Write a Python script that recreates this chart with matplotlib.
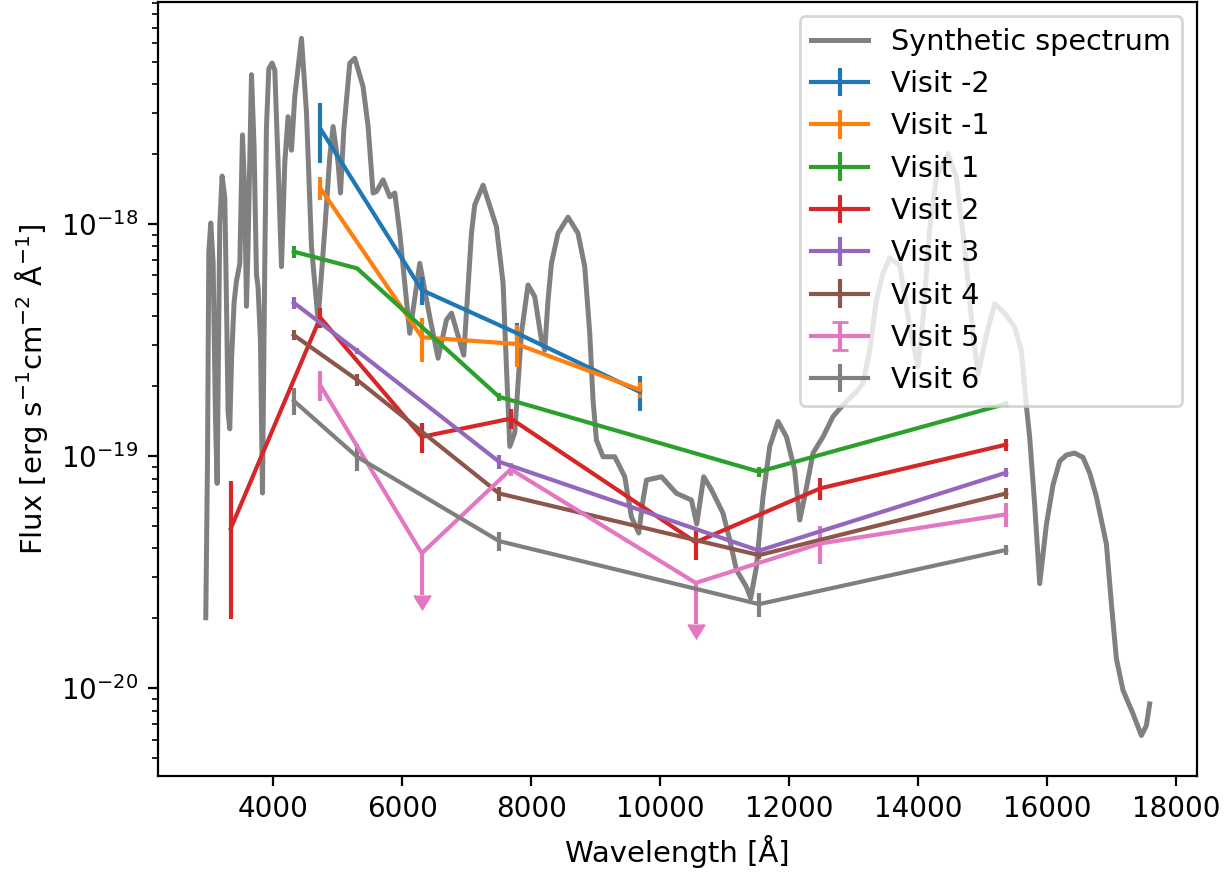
import numpy as np
import matplotlib
matplotlib.use("Agg")
import matplotlib.pyplot as plt

# Synthetic spectrum (wavelength in Angstrom, flux in erg/s/cm2/A)
spec_wave = [2950, 2977, 2997, 3028, 3064, 3101, 3126, 3167, 3203, 3245, 3271, 3296, 3322, 3349,
             3389, 3426, 3478, 3519, 3555, 3581, 3606, 3659, 3699, 3736, 3761, 3798, 3829, 3865,
             3891, 3927, 3978, 4020, 4071, 4124, 4175, 4226, 4279, 4330, 4434, 4512, 4589, 4691,
             4795, 4873, 4924, 5002, 5039, 5090, 5183, 5260, 5389, 5467, 5544, 5597, 5699, 5803,
             5881, 5958, 6062, 6113, 6268, 6423, 6552, 6682, 6760, 6950, 7070, 7121, 7250, 7457,
             7560, 7612, 7664, 7741, 7845, 7947, 8051, 8155, 8206, 8257, 8310, 8412, 8567, 8722,
             8826, 8904, 8955, 9008, 9110, 9292, 9447, 9550, 9664, 9730, 9783, 10016, 10248, 10481,
             10563, 10671, 10795, 10971, 11075, 11178, 11333, 11400, 11488, 11591, 11695, 11823,
             11954, 12082, 12160, 12237, 12366, 12521, 12676, 12831, 13039, 13141, 13245, 13349,
             13451, 13555, 13710, 13865, 13994, 14071, 14175, 14279, 14459, 14589, 14718, 14847,
             14924, 15054, 15183, 15338, 15493, 15597, 15675, 15726, 15803, 15881, 15985, 16087,
             16191, 16295, 16423, 16552, 16656, 16760, 16915, 16992, 17070, 17172, 17327, 17458,
             17535, 17586]
spec_flux = [2.01e-20, 9.80e-20, 7.59e-19, 1.01e-18, 6.76e-19, 1.44e-19, 7.62e-20, 9.95e-19,
             1.61e-18, 1.30e-18, 4.59e-19, 1.56e-19, 1.31e-19, 2.58e-19, 4.59e-19, 5.68e-19,
             6.76e-19, 2.42e-18, 1.35e-18, 4.42e-19, 8.20e-19, 4.40e-18, 2.15e-18, 6.03e-19,
             5.36e-19, 3.12e-19, 6.93e-20, 6.76e-19, 2.61e-18, 4.66e-18, 4.94e-18, 4.61e-18,
             1.83e-18, 6.55e-19, 1.83e-18, 2.90e-18, 2.08e-18, 3.54e-18, 6.31e-18, 3.01e-18,
             7.98e-19, 3.86e-19, 9.42e-19, 1.95e-18, 2.63e-18, 1.83e-18, 1.36e-18, 2.54e-18,
             4.93e-18, 5.18e-18, 3.91e-18, 2.63e-18, 1.36e-18, 1.38e-18, 1.55e-18, 1.31e-18,
             1.36e-18, 9.14e-19, 4.70e-19, 3.38e-19, 6.77e-19, 3.98e-19, 2.64e-19, 3.86e-19,
             4.13e-19, 2.72e-19, 9.14e-19, 1.21e-18, 1.47e-18, 9.74e-19, 5.57e-19, 2.43e-19,
             1.10e-19, 1.26e-19, 3.39e-19, 5.46e-19, 4.86e-19, 3.16e-19, 2.86e-19, 4.70e-19,
             6.77e-19, 9.12e-19, 1.07e-18, 9.12e-19, 6.55e-19, 3.38e-19, 1.74e-19, 1.17e-19,
             9.93e-20, 9.93e-20, 8.14e-20, 5.47e-20, 4.66e-20, 6.46e-20, 7.88e-20, 8.14e-20,
             6.91e-20, 6.46e-20, 5.09e-20, 8.14e-20, 7.13e-20, 5.66e-20, 4.35e-20, 3.23e-20,
             2.73e-20, 2.44e-20, 3.33e-20, 6.68e-20, 1.10e-19, 1.41e-19, 1.21e-19, 8.70e-20,
             5.30e-20, 6.68e-20, 1.03e-19, 1.21e-19, 1.48e-19, 1.66e-19, 1.89e-19, 2.06e-19,
             2.86e-19, 4.70e-19, 6.13e-19, 7.13e-19, 6.66e-19, 3.60e-19, 2.43e-19, 3.90e-19,
             9.55e-19, 1.59e-18, 2.01e-18, 1.59e-18, 7.86e-19, 3.32e-19, 2.25e-19, 3.32e-19,
             4.54e-19, 4.12e-19, 3.60e-19, 2.84e-19, 1.64e-19, 1.20e-19, 6.17e-20, 2.82e-20,
             5.08e-20, 7.50e-20, 9.50e-20, 1.01e-19, 1.03e-19, 9.87e-20, 8.45e-20, 6.68e-20,
             4.18e-20, 2.32e-20, 1.34e-20, 9.80e-21, 7.76e-21, 6.25e-21, 6.90e-21, 8.55e-21]

# Photometry wavelengths
wave_a = [4725, 6300, 7770, 9680]                          # Visits -2, -1
wave_b = [4315, 5296, 7498, 11529, 15360]                  # Visits 1, 3, 4, 6
wave_c = [3338, 4725, 6300, 7680, 10547, 12481, 15360]     # Visit 2
wave_d = [4725, 6300, 7680, 10547, 12481, 15360]           # Visit 5

visit_m2 = [2.58e-18, 5.19e-19, 3.39e-19, 1.89e-19]
visit_m2_err = [7.4e-19, 7.0e-20, 3.5e-20, 3.2e-20]
visit_m1 = [1.43e-18, 3.25e-19, 3.04e-19, 1.93e-19]
visit_m1_err = [1.6e-19, 7.0e-20, 6.3e-20, 1.5e-20]
visit_1 = [7.6e-19, 6.44e-19, 1.80e-19, 8.56e-20, 1.68e-19]
visit_1_err = [4.5e-20, 1.1e-20, 7.0e-21, 4.0e-21, 5.0e-21]
visit_2 = [4.88e-20, 3.95e-19, 1.21e-19, 1.45e-19, 4.25e-20, 7.26e-20, 1.12e-19]
visit_2_err = [2.9e-20, 4.0e-20, 1.8e-20, 1.4e-20, 6.7e-21, 7.8e-21, 7.0e-21]
visit_3 = [4.58e-19, 2.84e-19, 9.45e-20, 3.91e-20, 8.48e-20]
visit_3_err = [2.9e-20, 9.0e-21, 6.6e-21, 1.4e-21, 3.8e-21]
visit_4 = [3.32e-19, 2.13e-19, 6.9e-20, 3.74e-20, 6.9e-20]
visit_4_err = [1.7e-20, 1.2e-20, 4.8e-21, 1.3e-21, 3.7e-21]
visit_5 = [2.02e-19, 3.81e-20, 8.77e-20, 2.84e-20, 4.20e-20, 5.61e-20]
visit_5_err = [3.0e-20, 1.29e-20, 6.0e-21, 9.6e-21, 7.8e-21, 6.8e-21]
visit_5_uplim = [False, True, False, True, False, False]
visit_6 = [1.73e-19, 9.93e-20, 4.30e-20, 2.30e-20, 3.94e-20]
visit_6_err = [2.3e-20, 1.35e-20, 4.0e-21, 2.7e-21, 2.0e-21]

fig = plt.figure(figsize=(6.145, 4.36), dpi=200)
ax = fig.add_axes([0.1286, 0.1101, 0.8451, 0.8876])

ax.plot(spec_wave, spec_flux, color='gray', lw=1.8, label='Synthetic spectrum')
ax.errorbar(wave_a, visit_m2, yerr=visit_m2_err, label='Visit -2')
ax.errorbar(wave_a, visit_m1, yerr=visit_m1_err, label='Visit -1')
ax.errorbar(wave_b, visit_1, yerr=visit_1_err, label='Visit 1')
ax.errorbar(wave_c, visit_2, yerr=visit_2_err, label='Visit 2')
ax.errorbar(wave_b, visit_3, yerr=visit_3_err, label='Visit 3')
ax.errorbar(wave_b, visit_4, yerr=visit_4_err, label='Visit 4')
ax.errorbar(wave_d, visit_5, yerr=visit_5_err, uplims=visit_5_uplim, label='Visit 5')
ax.errorbar(wave_b, visit_6, yerr=visit_6_err, label='Visit 6')

ax.set_yscale('log')
ax.set_xlim(2210, 18315)
ax.set_ylim(4.18e-21, 9.05e-18)
ax.set_xlabel('Wavelength [Å]', fontsize=10.5)
ax.set_ylabel('Flux [erg s$^{-1}$cm$^{-2}$ Å$^{-1}$]', fontsize=10.5)
ax.legend(loc='upper right', fontsize=10.3)

fig.savefig('out.png', dpi=200)
